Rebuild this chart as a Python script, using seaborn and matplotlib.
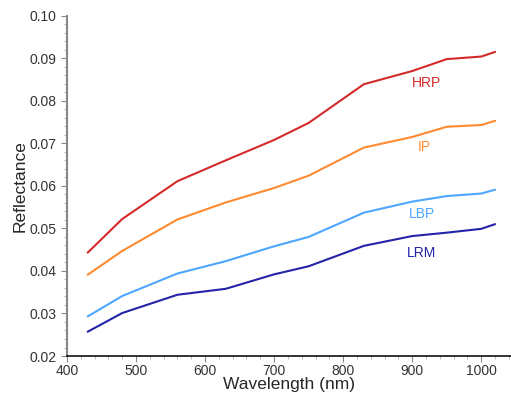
import matplotlib
matplotlib.use("Agg")
import matplotlib.pyplot as plt
import seaborn as sns
import pandas as pd
from matplotlib.ticker import MultipleLocator

wavelength = [430, 480, 560, 630, 700, 750, 830, 900, 950, 1000, 1020]
hrp = [0.0443, 0.0522, 0.0611, 0.0660, 0.0708, 0.0748, 0.0839, 0.0870, 0.0898, 0.0904, 0.0915]
ip = [0.0391, 0.0447, 0.0521, 0.0561, 0.0595, 0.0624, 0.0690, 0.0715, 0.0739, 0.0743, 0.0753]
lbp = [0.0293, 0.0341, 0.0394, 0.0423, 0.0458, 0.0480, 0.0537, 0.0563, 0.0576, 0.0582, 0.0591]
lrm = [0.0257, 0.0301, 0.0344, 0.0358, 0.0392, 0.0411, 0.0459, 0.0482, 0.0490, 0.0499, 0.0510]
series_names = ["HRP", "IP", "LBP", "LRM"]
colors = ["#d42a2a", "#ff8a30", "#4da6ff", "#2424a8"]
label_x = [920, 917, 914, 913]
label_y = [0.0842, 0.0691, 0.0533, 0.0442]

df = pd.concat([
    pd.DataFrame({"Wavelength": wavelength, "Reflectance": vals, "Type": name})
    for name, vals in zip(series_names, [hrp, ip, lbp, lrm])
])

sns.set_style("ticks")
plt.rcParams["font.family"] = ["Liberation Sans", "DejaVu Sans"]

fig = plt.figure(figsize=(5.11, 3.98), dpi=100)
ax = fig.add_axes([0.131, 0.1055, 0.869, 0.855])
sns.lineplot(data=df, x="Wavelength", y="Reflectance", hue="Type",
             palette=dict(zip(series_names, colors)), legend=False,
             linewidth=1.5, ax=ax)

for name, c, lx, ly in zip(series_names, colors, label_x, label_y):
    ax.text(lx, ly, name, color=c, fontsize=10, ha="center", va="center")

ax.set_xlim(400, 1043)
ax.set_ylim(0.02, 0.10)
ax.xaxis.set_major_locator(MultipleLocator(100))
ax.xaxis.set_minor_locator(MultipleLocator(20))
ax.yaxis.set_major_locator(MultipleLocator(0.01))
ax.yaxis.set_minor_locator(MultipleLocator(0.002))
ax.yaxis.set_major_formatter(matplotlib.ticker.FormatStrFormatter("%.2f"))
ax.tick_params(axis="both", which="major", labelsize=10, length=4, color="#888888", labelcolor="#333333")
ax.tick_params(axis="x", which="major", pad=2)
ax.tick_params(axis="both", which="minor", length=2, color="#aaaaaa")
for s in ["top", "right"]:
    ax.spines[s].set_visible(False)
ax.spines["left"].set_color("#888888")
ax.spines["left"].set_linewidth(1.5)
ax.spines["bottom"].set_color("#111111")
ax.spines["bottom"].set_linewidth(1.2)
ax.set_xlabel("Wavelength (nm)", fontsize=12.5, labelpad=-1)
ax.set_ylabel("Reflectance", fontsize=12.5, labelpad=1)

fig.savefig("out.png", dpi=100)
